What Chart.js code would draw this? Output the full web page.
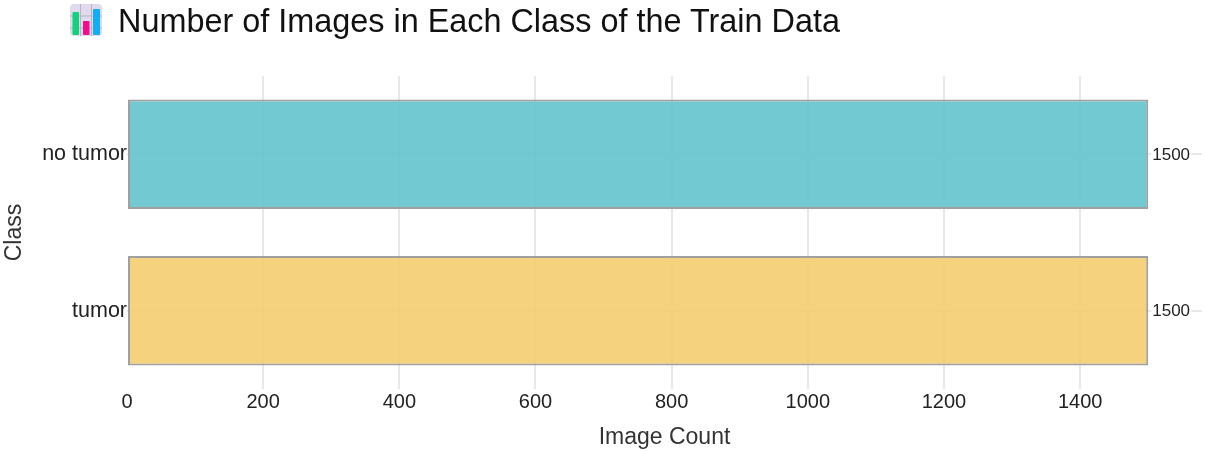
<!DOCTYPE html>
<html>
<head>
<meta charset="utf-8">
<title>Number of Images in Each Class of the Train Data</title>
<script src="https://cdn.jsdelivr.net/npm/chart.js@4/dist/chart.umd.js"></script>
<style>
  html, body { margin: 0; padding: 0; background: #fff; }
  #wrap { position: relative; width: 1205px; height: 452px; overflow: hidden; }
  #chart { position: absolute; left: 0; top: 0; }
  #heading {
    position: absolute; left: 118px; top: 3px; margin: 0;
    font: normal 32.4px "Liberation Sans", Arial, sans-serif; color: #111; white-space: nowrap;
  }
  #icon { position: absolute; left: 70px; top: 4px; }
</style>
</head>
<body>
<div id="wrap">
  <canvas id="chart" width="1205" height="452"></canvas>
  <svg id="icon" width="33" height="33" viewBox="0 0 33 33">
    <rect x="0" y="0" width="32" height="32" rx="4" fill="#e1d9ec"/>
    <path d="M0 12H32M0 24H32M10.5 0V32M21.5 0V32" stroke="#b9b2c6" stroke-width="1"/>
    <rect x="2.5" y="8" width="6.5" height="23" rx="1" fill="#10d27a"/>
    <rect x="13" y="17" width="6.5" height="14" rx="1" fill="#f20d8c"/>
    <rect x="23" y="5" width="7" height="26" rx="1" fill="#10aef5"/>
  </svg>
  <h1 id="heading">Number of Images in Each Class of the Train Data</h1>
</div>
<script>
const categories = ['no tumor', 'tumor'];
const imageCounts = [1500, 1500];
const barColors = ['rgba(100, 195, 204, 0.9)', 'rgba(244, 205, 112, 0.9)'];
const xTicks = [0, 200, 400, 600, 800, 1000, 1200, 1400];

const fontFamily = '"Liberation Sans", Arial, sans-serif';

// writes the count just right of each bar
const valueLabels = {
    id: 'valueLabels',
    afterDatasetsDraw(chart) {
        const ctx = chart.ctx;
        ctx.save();
        ctx.font = '17px ' + fontFamily;
        ctx.textBaseline = 'middle';
        chart.getDatasetMeta(0).data.forEach((bar, i) => {
            ctx.fillStyle = '#fff';
            ctx.fillRect(bar.x + 3, bar.y - 9, 40, 18);
            ctx.fillStyle = '#222';
            ctx.fillText(imageCounts[i], bar.x + 4, bar.y + 1);
        });
        ctx.restore();
    }
};

new Chart(document.getElementById('chart'), {
    type: 'bar',
    data: {
        labels: categories,
        datasets: [{
            data: imageCounts,
            backgroundColor: barColors,
            borderColor: '#a0a0a0',
            borderWidth: 2,
            borderSkipped: false,
            categoryPercentage: 1,
            barPercentage: 0.7
        }]
    },
    options: {
        indexAxis: 'y',
        responsive: false,
        animation: false,
        layout: { padding: { top: 76, right: 3, left: 0, bottom: 0 } },
        plugins: {
            legend: { display: false },
            tooltip: { enabled: false },
            title: { display: false }
        },
        scales: {
            x: {
                min: 0,
                max: 1579,
                afterBuildTicks: (scale) => { scale.ticks = xTicks.map((v) => ({ value: v })); },
                afterFit: (scale) => { scale.height = 63; },
                grid: {
                    color: (c) => c.tick && c.tick.value === 0 ? 'rgba(0,0,0,0)' : '#e8e8e8',
                    lineWidth: 2,
                    drawTicks: false
                },
                border: { display: false },
                ticks: {
                    color: '#222',
                    padding: 1,
                    maxRotation: 0,
                    font: { size: 20, family: fontFamily },
                    callback: (v) => String(v)
                },
                title: {
                    display: true,
                    text: 'Image Count',
                    color: '#333',
                    padding: { top: 5, bottom: 1 },
                    font: { size: 23, family: fontFamily }
                }
            },
            y: {
                afterFit: (scale) => { scale.width = 127; },
                grid: { color: '#e8e8e8', lineWidth: 2, drawTicks: false, offset: false },
                border: { display: false },
                ticks: { color: '#222', padding: 0, font: { size: 21.5, family: fontFamily } },
                title: {
                    display: true,
                    text: 'Class',
                    color: '#333',
                    padding: { top: 1, bottom: 0 },
                    font: { size: 23, family: fontFamily }
                }
            }
        }
    },
    plugins: [valueLabels]
});
</script>
</body>
</html>
